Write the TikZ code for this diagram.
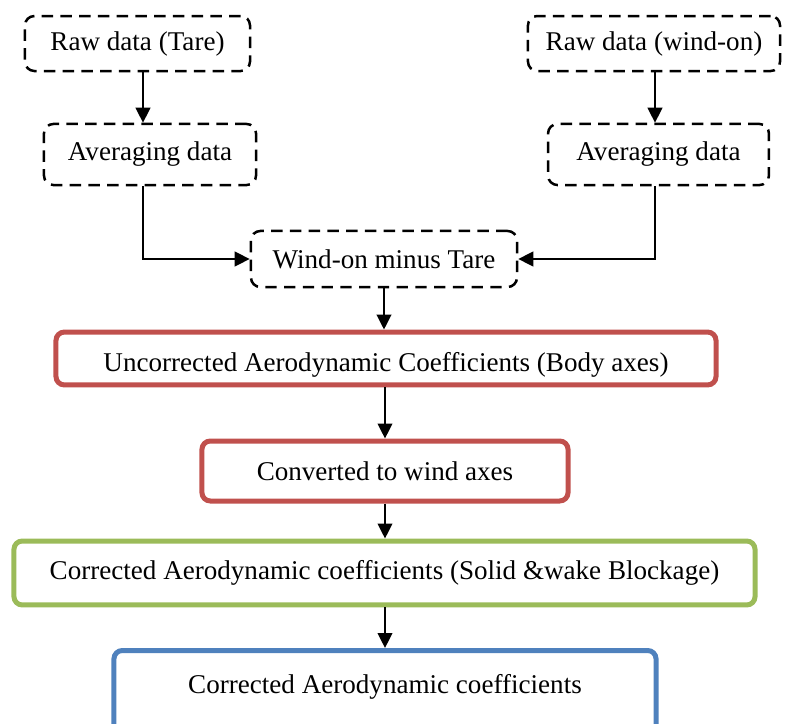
\documentclass[tikz,border=0pt]{standalone}
\usepackage{fontspec}
\setmainfont{Liberation Serif}
\usetikzlibrary{arrows.meta, positioning}
\definecolor{boxred}{HTML}{C0504D}
\definecolor{boxgreen}{HTML}{9BBB59}
\definecolor{boxblue}{HTML}{4F81BD}

\begin{document}
\begin{tikzpicture}[x=0.48pt, y=-0.48pt, >={Triangle[length=7.2pt, width=7pt]},
    every node/.style={font=\fontsize{13}{15.6}\selectfont, align=center, inner sep=0pt},
    dashbox/.style={draw, line width=1.2pt, dash pattern=on 5.5pt off 3.5pt, rounded corners=4.5pt},
    colbox/.style={draw=#1, line width=2.4pt, rounded corners=4pt},
    link/.style={->, line width=1.1pt}]
    \useasboundingbox (0,0) rectangle (787,724);
    \clip (0,0) rectangle (787,724);

    % raw data and averaging
    \node (rawT) at (137.5,43.5) [dashbox, minimum width=108pt, minimum height=26.4pt] {Raw data (Tare)};
    \node (rawW) at (654,43.5) [dashbox, minimum width=121pt, minimum height=26.4pt] {Raw data (wind-on)};
    \node (avgT) at (150,154.5) [dashbox, minimum width=101.8pt, minimum height=29.3pt] {Averaging data};
    \node (avgW) at (658.5,154.5) [dashbox, minimum width=106pt, minimum height=29.3pt] {Averaging data};
    \node (diff) at (384,259) [dashbox, minimum width=127.7pt, minimum height=26.9pt] {Wind-on minus Tare};

    % coefficient steps
    \node (unc) at (386,358.5) [colbox=boxred, minimum width=316.8pt, minimum height=25.4pt, text height=12pt, text depth=0pt] {Uncorrected Aerodynamic Coefficients (Body axes)};
    \node (conv) at (385,471) [colbox=boxred, minimum width=175.7pt, minimum height=28.8pt] {Converted to wind axes};
    \node (corr) at (384.5,573) [colbox=boxgreen, minimum width=355.7pt, minimum height=30.7pt] {Corrected Aerodynamic coefficients (Solid \&wake Blockage)};
    \node (final) at (385,648) [colbox=boxblue, anchor=north, minimum width=260.2pt, inner ysep=11.5pt, text depth=30pt] {Corrected Aerodynamic coefficients};

    \coordinate (colT) at (143,0);
    \coordinate (colW) at (655,0);
    \draw[link] (rawT.south -| colT) -- (avgT.north -| colT);
    \draw[link] (rawW.south -| colW) -- (avgW.north -| colW);
    \draw[link] (avgT.south -| colT) |- (diff.west);
    \draw[link] (avgW.south -| colW) |- (diff.east);
    \draw[link] (diff.south) -- (diff.south |- unc.north);
    \draw[link] (conv.north |- unc.south) -- (conv.north);
    \draw[link] (conv.south) -- (conv.south |- corr.north);
    \draw[link] (final.north |- corr.south) -- (final.north);
\end{tikzpicture}
\end{document}
